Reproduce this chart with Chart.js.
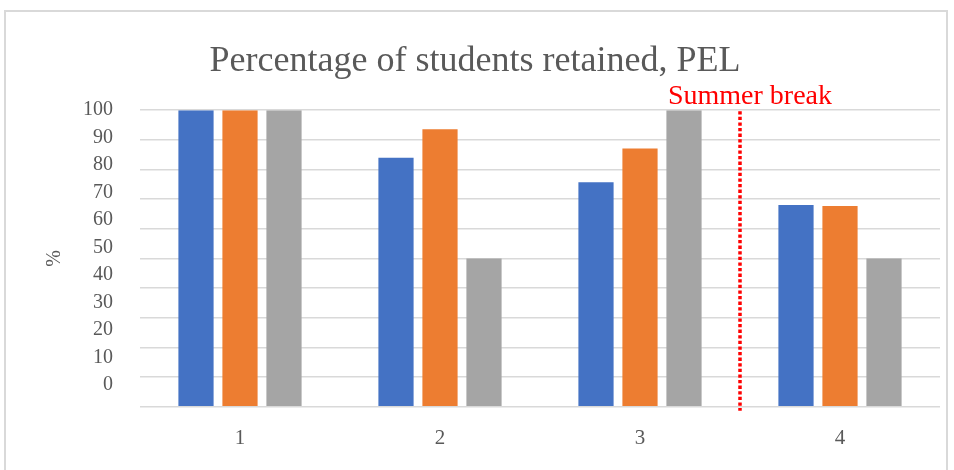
<!DOCTYPE html>
<html>
<head>
<meta charset="utf-8">
<script src="https://cdn.jsdelivr.net/npm/chart.js@4.4.1/dist/chart.umd.min.js"></script>
<style>
  html, body { margin: 0; padding: 0; background: #ffffff; }
  #frame { position: absolute; left: 4px; top: 10px; width: 944px; height: 480px; border: 2px solid #d9d9d9; box-sizing: border-box; }
  #wrap { position: absolute; left: 0; top: 0; width: 954px; height: 470px; }
</style>
</head>
<body>
<div id="frame"></div>
<div id="wrap"><canvas id="c" width="954" height="470"></canvas></div>
<script>
const categories = ['1', '2', '3', '4'];
const series1 = [100, 84, 75.7, 68];
const series2 = [100, 93.6, 87.1, 67.7];
const series3 = [100, 50, 100, 50];
const yTickLabels = [0, 10, 20, 30, 40, 50, 60, 70, 80, 90, 100];
const breakPosition = 2.5;
const breakLabel = 'Summer break';
const titleText = 'Percentage of students retained, PEL';

const serif = "'Liberation Serif', 'DejaVu Serif', serif";

const breakPlugin = {
  id: 'summerBreak',
  afterDatasetsDraw(chart) {
    const { ctx, chartArea, scales } = chart;
    const x = scales.x.getPixelForValue(breakPosition);
    ctx.save();
    ctx.strokeStyle = '#ff0000';
    ctx.lineWidth = 3.5;
    ctx.setLineDash([3.3, 2.3]);
    ctx.beginPath();
    ctx.moveTo(x, chartArea.top + 1);
    ctx.lineTo(x, chartArea.bottom + 4);
    ctx.stroke();
    ctx.setLineDash([]);
    ctx.fillStyle = '#ff0000';
    ctx.font = "28px " + serif;
    ctx.textAlign = 'center';
    ctx.textBaseline = 'alphabetic';
    ctx.fillText(breakLabel, x + 10, chartArea.top - 6);
    ctx.restore();
  }
};

new Chart(document.getElementById('c'), {
  type: 'bar',
  data: {
    labels: categories,
    datasets: [
      { label: 'Series 1', data: series1, backgroundColor: '#4472C4', yAxisID: 'y' },
      { label: 'Series 2', data: series2, backgroundColor: '#ED7D31', yAxisID: 'y' },
      { label: 'Series 3', data: series3, backgroundColor: '#A5A5A5', yAxisID: 'y' }
    ]
  },
  options: {
    responsive: false,
    animation: false,
    categoryPercentage: 0.66,
    barPercentage: 0.8,
    layout: { padding: { left: 10, right: 14, top: 0, bottom: 0 } },
    plugins: {
      legend: { display: false },
      tooltip: { enabled: false },
      title: {
        display: true,
        text: titleText,
        color: '#595959',
        font: { family: serif, size: 36, weight: 'normal' },
        padding: { top: 40, bottom: 27 }
      }
    },
    scales: {
      x: {
        grid: { display: false, drawTicks: false },
        border: { display: false },
        ticks: { color: '#595959', font: { family: serif, size: 21 }, padding: 19 }
      },
      y: {
        position: 'left',
        min: 0,
        max: 100,
        weight: 0,
        grid: { color: '#d9d9d9', lineWidth: 1.5, drawTicks: false },
        border: { display: false },
        ticks: { display: false, stepSize: 10 }
      },
      y1: {
        position: 'left',
        min: -8,
        max: 100,
        weight: 1,
        grid: { display: false, drawTicks: false },
        border: { display: false },
        afterBuildTicks: (axis) => { axis.ticks = yTickLabels.map(v => ({ value: v })); },
        ticks: { color: '#595959', font: { family: serif, size: 20 }, padding: 27, autoSkip: false },
        title: { display: true, text: '%', color: '#595959', font: { family: serif, size: 20 }, padding: { top: 33, bottom: -11 } }
      }
    }
  },
  plugins: [breakPlugin]
});
</script>
</body>
</html>
